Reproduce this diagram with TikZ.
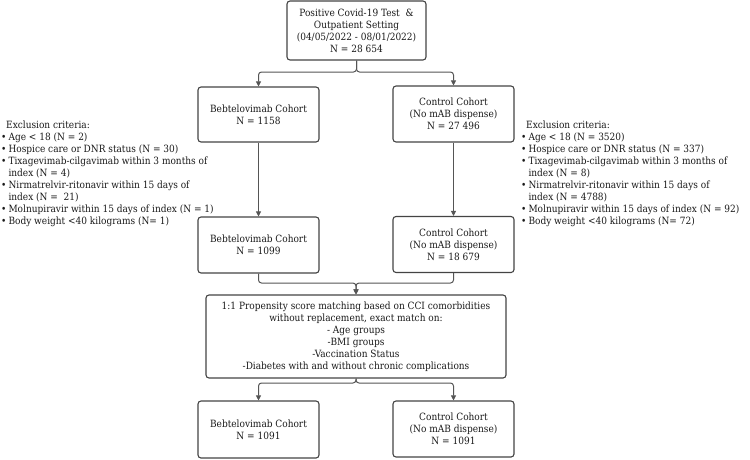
\documentclass[tikz,border=0pt]{standalone}
\usepackage{fontspec}
\setmainfont{DejaVu Serif Condensed}
\usetikzlibrary{arrows.meta}
\definecolor{lc}{HTML}{555555}
\definecolor{bc}{HTML}{444444}
\definecolor{tc}{HTML}{1A1A1A}
\tikzset{
  box/.style={draw=bc, line width=1.1pt, rounded corners=3pt, inner sep=0pt, align=center, text=tc,
    font=\fontsize{10}{12}\selectfont},
  conn/.style={draw=lc, line width=1pt, rounded corners=3pt, -{Triangle[width=5pt,length=5pt]}},
  excl/.style={inner sep=0pt, text=tc, font=\fontsize{10}{12}\selectfont, align=left}
}
\begin{document}
\begin{tikzpicture}[x=1pt,y=-1pt]
\useasboundingbox[fill=white] (0,0) rectangle (750,459);
\node[box, minimum width=139pt, minimum height=59pt] (top) at (356.5,30.5)
  {Positive Covid-19 Test \ \&\\Outpatient Setting\\(04/05/2022 - 08/01/2022)\\N = 28 654};
\node[box, minimum width=121pt, minimum height=55pt] (b1) at (258.5,114.5)
  {Bebtelovimab Cohort\\N = 1158};
\node[box, minimum width=121pt, minimum height=56pt] (c1) at (453.5,114)
  {Control Cohort\\(No mAB dispense)\\N = 27 496};
\node[box, minimum width=121pt, minimum height=56pt] (b2) at (258.5,245)
  {Bebtelovimab Cohort\\N = 1099};
\node[box, minimum width=121pt, minimum height=56pt] (c2) at (453.5,244.5)
  {Control Cohort\\(No mAB dispense)\\N = 18 679};
\node[box, minimum width=300pt, minimum height=83pt] (m) at (356,336.5)
  {1:1 Propensity score matching based on CCI comorbidities\\without replacement, exact match on:\\- Age groups\\-BMI groups\\-Vaccination Status\\-Diabetes with and without chronic complications};
\node[box, minimum width=121pt, minimum height=57pt] (b3) at (258.5,429.5)
  {Bebtelovimab Cohort\\N = 1091};
\node[box, minimum width=121pt, minimum height=56pt] (c3) at (453.5,429)
  {Control Cohort\\(No mAB dispense)\\N = 1091};
\node[excl, anchor=north west] (exl) at (1,119.5) {\begin{tabular}{@{}l@{\hspace{2pt}}l@{}}
\multicolumn{2}{@{}l}{\hspace{5pt}Exclusion criteria:}\\
• & Age < 18 (N = 2)\\
• & Hospice care or DNR status (N = 30)\\
• & Tixagevimab-cilgavimab within 3 months of\\
  & index (N = 4)\\
• & Nirmatrelvir-ritonavir within 15 days of\\
  & index (N = \ 21)\\
• & Molnupiravir within 15 days of index (N = 1)\\
• & Body weight <40 kilograms (N= 1)
\end{tabular}};
\node[excl, anchor=north west] (exr) at (521,119.5) {\begin{tabular}{@{}l@{\hspace{2pt}}l@{}}
\multicolumn{2}{@{}l}{\hspace{5pt}Exclusion criteria:}\\
• & Age < 18 (N = 3520)\\
• & Hospice care or DNR status (N = 337)\\
• & Tixagevimab-cilgavimab within 3 months of\\
  & index (N = 8)\\
• & Nirmatrelvir-ritonavir within 15 days of\\
  & index (N = 4788)\\
• & Molnupiravir within 15 days of index (N = 92)\\
• & Body weight <40 kilograms (N= 72)
\end{tabular}};
\coordinate (j1) at (356.5,72);
\coordinate (j2) at (356,283);
\coordinate (j3) at (356,383);
\draw[conn] (top.south) -- (j1) -| (b1.north);
\draw[conn] (top.south) -- (j1) -| (c1.north);
\draw[conn] (b1.south) -- (b2.north);
\draw[conn] (c1.south) -- (c2.north);
\draw[conn] (b2.south) |- (j2) -- (m.north);
\draw[conn] (c2.south) |- (j2) -- (m.north);
\draw[conn] (m.south) -- (j3) -| (b3.north);
\draw[conn] (m.south) -- (j3) -| (c3.north);
\end{tikzpicture}
\end{document}
